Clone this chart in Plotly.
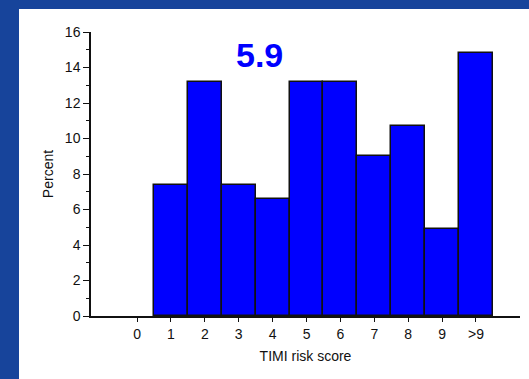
import plotly.graph_objects as go

categories = ["0", "1", "2", "3", "4", "5", "6", "7", "8", "9", ">9"]
percent = [0, 7.4, 13.2, 7.4, 6.6, 13.2, 13.2, 9.0, 10.7, 4.9, 14.8]
y_ticks = [0, 2, 4, 6, 8, 10, 12, 14, 16]
mean_label = "5.9"

FONT = "Liberation Sans, Arial, sans-serif"
BLUE_BG = "#17449b"

fig = go.Figure()
fig.add_trace(go.Bar(
    x=categories, y=percent,
    marker=dict(color="#0000ff",
                line=dict(color="#111111", width=[0 if v == 0 else 1.5 for v in percent])),
    showlegend=False, hoverinfo="skip",
))

L, R, T, B = 91, 9, 32, 63
W, H = 529, 379
pw, ph = W - L - R, H - T - B

# blue slide frame: left strip and top strip
fig.add_shape(type="rect", xref="paper", yref="paper",
              x0=-L / pw, x1=(19 - L) / pw, y0=-B / ph, y1=(H - B) / ph,
              fillcolor=BLUE_BG, line=dict(width=0), layer="below")
fig.add_shape(type="rect", xref="paper", yref="paper",
              x0=-L / pw, x1=(W - L) / pw, y0=(H - B - 9) / ph, y1=(H - B) / ph,
              fillcolor=BLUE_BG, line=dict(width=0), layer="below")

fig.add_annotation(x=3.6, y=14.7, xref="x", yref="y", text="<b>" + mean_label + "</b>",
                   showarrow=False, font=dict(family=FONT, size=34, color="#0000ff"),
                   xanchor="center", yanchor="middle")

fig.update_layout(
    width=W, height=H,
    margin=dict(l=L, r=R, t=T, b=B, pad=0),
    paper_bgcolor="white",
    plot_bgcolor="white",
    bargap=0,
    font=dict(family=FONT, size=14, color="#111111"),
    xaxis=dict(
        type="category", range=[-1.36, 11.3],
        showline=True, linecolor="#111111", linewidth=1.5,
        ticks="outside", ticklen=4, tickwidth=1.2, tickcolor="#111111",
        showgrid=False, zeroline=False,
        title=dict(text="TIMI risk score", font=dict(size=14), standoff=11),
        tickfont=dict(size=14),
    ),
    yaxis=dict(
        range=[0, 16], tickvals=y_ticks,
        showline=True, linecolor="#111111", linewidth=1.5,
        ticks="outside", ticklen=6, tickwidth=1.2, tickcolor="#111111",
        minor=dict(dtick=1, ticks="outside", ticklen=3, tickwidth=1, tickcolor="#111111", showgrid=False),
        showgrid=False, zeroline=False,
        title=dict(text="Percent", font=dict(size=14), standoff=8),
        tickfont=dict(size=14),
    ),
)

fig.write_html("out.html")
